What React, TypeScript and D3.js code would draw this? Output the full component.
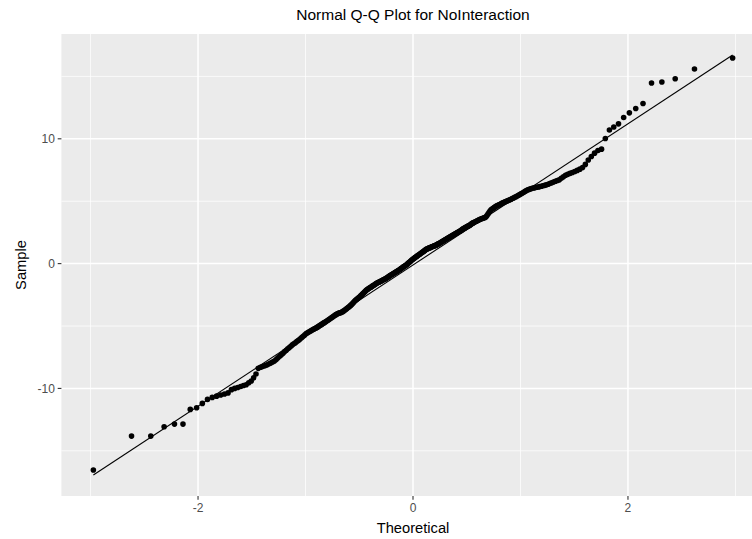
import React from "react";
import * as d3 from "d3";

const TITLE = "Normal Q-Q Plot for NoInteraction";
const X_LABEL = "Theoretical";
const Y_LABEL = "Sample";
const X_TICKS = [-2, 0, 2];
const X_MINOR = [-3, -1, 1, 3];
const Y_TICKS = [-10, 0, 10];
const Y_MINOR = [-15, -5, 5, 15];

// sorted sample values (n = 340)
const SAMPLE = [
  -16.54, -13.82, -13.82, -13.07, -12.86, -12.86, -11.68, -11.55, -11.2, -10.88,
  -10.72, -10.62, -10.53, -10.45, -10.36, -10.1, -10.0, -9.93, -9.85, -9.77,
  -9.7, -9.55, -9.4, -9.15, -8.85, -8.39, -8.3, -8.25, -8.18, -8.12,
  -8.05, -7.97, -7.88, -7.8, -7.68, -7.55, -7.42, -7.3, -7.18, -7.05,
  -6.94, -6.83, -6.72, -6.62, -6.5, -6.42, -6.34, -6.25, -6.16, -6.08,
  -5.98, -5.89, -5.8, -5.7, -5.6, -5.54, -5.48, -5.42, -5.36, -5.3,
  -5.25, -5.2, -5.15, -5.09, -5.03, -4.97, -4.91, -4.85, -4.79, -4.73,
  -4.68, -4.62, -4.56, -4.5, -4.44, -4.38, -4.32, -4.26, -4.2, -4.14,
  -4.09, -4.04, -4.0, -3.97, -3.95, -3.92, -3.88, -3.83, -3.78, -3.72,
  -3.66, -3.6, -3.54, -3.48, -3.42, -3.35, -3.28, -3.2, -3.12, -3.04,
  -2.96, -2.9, -2.84, -2.78, -2.71, -2.65, -2.58, -2.51, -2.44, -2.37,
  -2.3, -2.23, -2.16, -2.1, -2.05, -2.0, -1.96, -1.91, -1.87, -1.82,
  -1.78, -1.74, -1.69, -1.64, -1.59, -1.55, -1.52, -1.49, -1.45, -1.42,
  -1.39, -1.35, -1.32, -1.28, -1.25, -1.21, -1.18, -1.13, -1.09, -1.04,
  -1.0, -0.96, -0.91, -0.87, -0.83, -0.79, -0.75, -0.71, -0.68, -0.64,
  -0.6, -0.55, -0.51, -0.47, -0.42, -0.38, -0.33, -0.28, -0.24, -0.19,
  -0.15, -0.11, -0.06, 0.0, 0.06, 0.11, 0.17, 0.22, 0.28, 0.33,
  0.38, 0.43, 0.48, 0.53, 0.57, 0.62, 0.66, 0.71, 0.75, 0.8,
  0.85, 0.89, 0.94, 0.99, 1.04, 1.09, 1.14, 1.17, 1.2, 1.23,
  1.26, 1.28, 1.31, 1.34, 1.37, 1.39, 1.42, 1.44, 1.47, 1.5,
  1.54, 1.58, 1.61, 1.65, 1.69, 1.73, 1.77, 1.81, 1.85, 1.89,
  1.93, 1.97, 2.01, 2.05, 2.09, 2.13, 2.17, 2.21, 2.25, 2.29,
  2.33, 2.37, 2.41, 2.45, 2.49, 2.53, 2.57, 2.61, 2.65, 2.7,
  2.76, 2.8, 2.84, 2.88, 2.92, 2.96, 3.0, 3.04, 3.08, 3.13,
  3.2, 3.24, 3.28, 3.32, 3.36, 3.4, 3.44, 3.48, 3.52, 3.55,
  3.58, 3.61, 3.64, 3.67, 3.69, 3.75, 3.85, 3.97, 4.1, 4.22,
  4.31, 4.37, 4.43, 4.49, 4.55, 4.61, 4.65, 4.7, 4.74, 4.78,
  4.83, 4.87, 4.91, 4.95, 4.99, 5.03, 5.07, 5.11, 5.16, 5.21,
  5.26, 5.31, 5.36, 5.41, 5.47, 5.53, 5.59, 5.65, 5.72, 5.79,
  5.85, 5.91, 5.95, 5.99, 6.03, 6.06, 6.09, 6.12, 6.14, 6.17,
  6.2, 6.24, 6.27, 6.31, 6.36, 6.42, 6.48, 6.54, 6.6, 6.66,
  6.71, 6.83, 6.96, 7.08, 7.15, 7.23, 7.3, 7.38, 7.47, 7.57,
  7.7, 7.95, 8.3, 8.58, 8.85, 9.06, 9.17, 10.02, 10.7, 10.94,
  11.2, 11.71, 12.08, 12.43, 12.83, 14.47, 14.55, 14.81, 15.59, 16.47,
];

// inverse normal CDF (Acklam)
function qnorm(p: number): number {
  const a = [-39.69683028665376, 220.9460984245205, -275.9285104469687, 138.357751867269, -30.66479806614716, 2.506628277459239];
  const b = [-54.47609879822406, 161.5858368580409, -155.6989798598866, 66.80131188771972, -13.28068155288572];
  const c = [-0.007784894002430293, -0.3223964580411365, -2.400758277161838, -2.549732539343734, 4.374664141464968, 2.938163982698783];
  const d = [0.007784695709041462, 0.3224671290700398, 2.445134137142996, 3.754408661907416];
  const pl = 0.02425;
  if (p < pl) {
    const q = Math.sqrt(-2 * Math.log(p));
    return (((((c[0] * q + c[1]) * q + c[2]) * q + c[3]) * q + c[4]) * q + c[5]) / ((((d[0] * q + d[1]) * q + d[2]) * q + d[3]) * q + 1);
  }
  if (p > 1 - pl) {
    const q = Math.sqrt(-2 * Math.log(1 - p));
    return -(((((c[0] * q + c[1]) * q + c[2]) * q + c[3]) * q + c[4]) * q + c[5]) / ((((d[0] * q + d[1]) * q + d[2]) * q + d[3]) * q + 1);
  }
  const q = p - 0.5;
  const r = q * q;
  return ((((((a[0] * r + a[1]) * r + a[2]) * r + a[3]) * r + a[4]) * r + a[5]) * q) / (((((b[0] * r + b[1]) * r + b[2]) * r + b[3]) * r + b[4]) * r + 1);
}

const W = 752;
const H = 539;
const FONT = "'Liberation Sans', Arial, sans-serif";

export default function App() {
  const n = SAMPLE.length;
  const sorted = [...SAMPLE].sort((a, b) => a - b);
  const pts = sorted.map((y, i) => ({ x: qnorm((i + 0.5) / n), y }));

  const q1 = d3.quantile(sorted, 0.25) as number;
  const q3 = d3.quantile(sorted, 0.75) as number;
  const t1 = qnorm(0.25);
  const t3 = qnorm(0.75);
  const slope = (q3 - q1) / (t3 - t1);
  const intercept = q1 - slope * t1;
  const xExt = d3.extent(pts, (p) => p.x) as [number, number];
  const linePts = xExt.map((x) => ({ x, y: intercept + slope * x }));

  const allY = [...sorted, ...linePts.map((p) => p.y)];
  const [yMin, yMax] = d3.extent(allY) as [number, number];
  const yPad = (yMax - yMin) * 0.05;
  const xPad = (xExt[1] - xExt[0]) * 0.05;

  const left = 61.4;
  const right = 764.6;
  const top = 34;
  const bottom = 496;

  const x = d3.scaleLinear().domain([xExt[0] - xPad, xExt[1] + xPad]).range([left, right]);
  const y = d3.scaleLinear().domain([yMin - yPad, yMax + yPad]).range([bottom, top]);

  const line = d3.line<{ x: number; y: number }>().x((p) => x(p.x)).y((p) => y(p.y));

  return (
    <svg width={W} height={H} style={{ position: "absolute", left: 0, top: 0, background: "#fff" }} fontFamily={FONT}>
      <rect x={left} y={top} width={right - left} height={bottom - top} fill="#EBEBEB" />
      {Y_MINOR.map((v) => (
        <line key={"ym" + v} x1={left} x2={right} y1={y(v)} y2={y(v)} stroke="#fff" strokeWidth={0.75} />
      ))}
      {X_MINOR.map((v) => (
        <line key={"xm" + v} x1={x(v)} x2={x(v)} y1={top} y2={bottom} stroke="#fff" strokeWidth={0.75} />
      ))}
      {Y_TICKS.map((v) => (
        <line key={"yM" + v} x1={left} x2={right} y1={y(v)} y2={y(v)} stroke="#fff" strokeWidth={1.5} />
      ))}
      {X_TICKS.map((v) => (
        <line key={"xM" + v} x1={x(v)} x2={x(v)} y1={top} y2={bottom} stroke="#fff" strokeWidth={1.5} />
      ))}
      {pts.map((p, i) => (
        <circle key={i} cx={x(p.x)} cy={y(p.y)} r={2.8} fill="#000" />
      ))}
      <path d={line(linePts) || ""} fill="none" stroke="#000" strokeWidth={1.1} />
      {Y_TICKS.map((v) => (
        <g key={"yt" + v}>
          <line x1={left - 3.7} x2={left} y1={y(v)} y2={y(v)} stroke="#333" strokeWidth={1.1} />
          <text x={left - 6.5} y={y(v)} dy="0.35em" textAnchor="end" fontSize={12} fill="#4D4D4D">
            {v}
          </text>
        </g>
      ))}
      {X_TICKS.map((v) => (
        <g key={"xt" + v}>
          <line x1={x(v)} x2={x(v)} y1={bottom} y2={bottom + 3.7} stroke="#333" strokeWidth={1.1} />
          <text x={x(v)} y={bottom + 6.5} dy="0.8em" textAnchor="middle" fontSize={12} fill="#4D4D4D">
            {v}
          </text>
        </g>
      ))}
      <text x={(left + right) / 2} y={533} textAnchor="middle" fontSize={14.7} fill="#000">
        {X_LABEL}
      </text>
      <text transform={`translate(26,${(top + bottom) / 2}) rotate(-90)`} textAnchor="middle" fontSize={14.7} fill="#000">
        {Y_LABEL}
      </text>
      <text x={(left + right) / 2} y={20} textAnchor="middle" fontSize={15.5} fill="#000">
        {TITLE}
      </text>
    </svg>
  );
}
